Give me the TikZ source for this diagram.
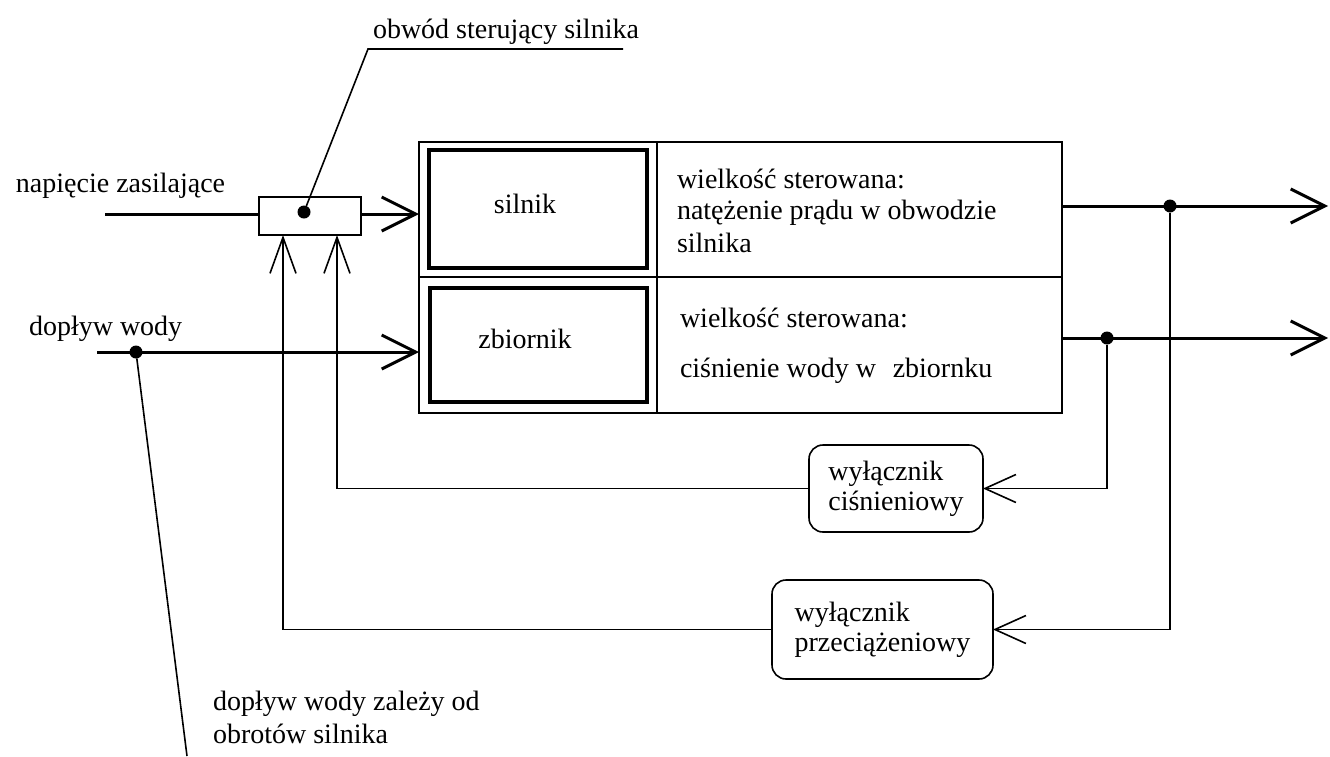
\documentclass[tikz,border=0pt]{standalone}
\usepackage{fontspec}
\setmainfont{Liberation Serif}
\usetikzlibrary{arrows.meta}

\begin{document}
\begin{tikzpicture}[x=1pt,y=-1pt,
  every node/.style={inner sep=0pt, outer sep=0pt},
  lbl/.style={font=\fontsize{28}{34}\selectfont, anchor=base west},
  clbl/.style={font=\fontsize{28}{34}\selectfont, anchor=base},
  thinln/.style={line width=1.6pt},
  thickln/.style={line width=3pt},
  cell/.style 2 args={draw, rectangle, minimum width=#1, minimum height=#2},
  switchbox/.style 2 args={draw, line width=1.6pt, rectangle, rounded corners=14pt,
     minimum width=#1, minimum height=#2, align=left,
     font=\fontsize{28}{30}\selectfont},
  bigtip/.style={-{Straight Barb[length=34pt,width=34pt]}},
  uptip/.style={-{Straight Barb[length=36pt,width=26pt]}},
  smalltip/.style={-{Straight Barb[length=31pt,width=28pt]}},
  junction/.style={circle, fill, minimum size=13pt}
]
\useasboundingbox (0,0) rectangle (1330,756);

% main block with its dividers
\node[cell={643pt}{271pt}, line width=1.8pt] (plant) at (740.5,277.5) {};
\draw[line width=1.6pt] (657,142) -- (657,413);
\draw[line width=1.6pt] (plant.west |- 0,277) -- (plant.east |- 0,277);

% motor and tank
\node[cell={218pt}{118pt}, line width=4pt] (motor) at (538,209) {};
\node[cell={217pt}{114pt}, line width=4pt] (tank) at (538.5,345) {};
\node[clbl] (motorlbl) at (525,213) {silnik};
\node[clbl] (tanklbl) at (525,348) {zbiornik};

% controlled quantities
\node[lbl] (q1a) at (677,188) {wielkość sterowana:};
\node[lbl] (q1b) at (677,219) {natężenie prądu w obwodzie};
\node[lbl] (q1c) at (677,252) {silnika};
\node[lbl] (q2a) at (680,327) {wielkość sterowana:};
\node[lbl] (q2b) at (680,377) {ciśnienie wody w\hspace{0.35em} zbiornku};

% motor control circuit
\node[cell={102pt}{38pt}, line width=1.6pt] (ctrl) at (310,216) {};
\node[junction, minimum size=13pt] (cdot) at (304,212) {};
\node[lbl] (ctrllbl) at (373,38) {obwód sterujący silnika};
\coordinate (ctrlul) at (368,49);
\coordinate (ctrlur) at (623,49);
\draw[thinln] (cdot) -- (ctrlul) -- (ctrlur);

% supply voltage input
\node[lbl] (vinlbl) at (16,192) {napięcie zasilające};
\coordinate (vin) at (105,214);
\draw[thickln] (vin) -- (vin -| ctrl.west);
\draw[thickln, bigtip] (vin -| ctrl.east) -- (vin -| plant.west);

% water inflow input
\node[lbl] (winlbl) at (29,335) {dopływ wody};
\coordinate (win) at (97,352);
\draw[thickln, bigtip] (win) -- (win -| plant.west);
\node[junction] (wdot) at (136,352) {};
\coordinate (wnote) at (187,756);
\draw[thinln] (wdot) -- (wnote);
\node[lbl] (note1) at (213,710) {dopływ wody zależy od};
\node[lbl] (note2) at (213,743) {obrotów silnika};

% outputs
\coordinate (out1) at (1062,206);
\coordinate (end1) at (1328,206);
\coordinate (out2) at (1062,338);
\coordinate (end2) at (1328,338);
\draw[thickln, bigtip] (out1) -- (end1);
\draw[thickln, bigtip] (out2) -- (end2);
\node[junction] (j1) at (1170,206) {};
\node[junction] (j2) at (1107,338) {};

% protective switches
\node[switchbox={174pt}{87pt}] (psw) at (896,488.5) {wyłącznik\\ciśnieniowy};
\node[switchbox={221pt}{99pt}] (osw) at (882.5,629.5) {wyłącznik\\przeciążeniowy};

% feedback paths into the control circuit
\coordinate (cin1) at (283,235);
\coordinate (cin2) at (337,235);
\draw[thinln, smalltip] (j2) |- (psw.east);
\draw[thinln, smalltip] (j1) |- (osw.east);
\draw[thinln, uptip] (psw.west) -| (cin2);
\draw[thinln, uptip] (osw.west) -| (cin1);
\end{tikzpicture}
\end{document}
